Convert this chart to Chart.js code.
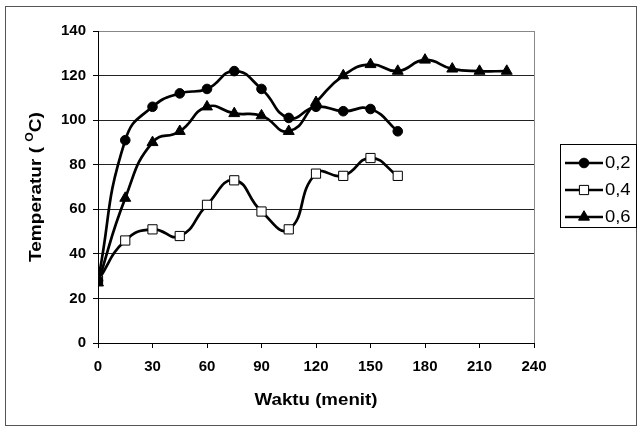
<!DOCTYPE html>
<html>
<head>
<meta charset="utf-8">
<script src="https://cdn.jsdelivr.net/npm/chart.js@4.4.1/dist/chart.umd.min.js"></script>
<style>
  html, body { margin: 0; padding: 0; background: #fff; }
  canvas { display: block; }
</style>
</head>
<body>
<canvas id="temp-chart" width="638" height="427"></canvas>
<script>
'use strict';

/* ====== data ====== */
const waktu = [0, 15, 30, 45, 60, 75, 90, 105, 120, 135, 150, 165, 180, 195, 210, 225];
const seriesNames = ['0,2', '0,4', '0,6'];
const temp02 = [28, 91, 106, 112, 114, 122, 114, 101, 106, 104, 105, 95];
const temp04 = [28, 46, 51, 48, 62, 73, 59, 51, 76, 75, 83, 75];
const temp06 = [27, 65, 90, 95, 106, 103, 102, 95, 108, 120, 125, 122, 127, 123, 122, 122];
const xTicks = [0, 30, 60, 90, 120, 150, 180, 210, 240];
const yTicks = [0, 20, 40, 60, 80, 100, 120, 140];

const FONT = '"Liberation Sans", Arial, sans-serif';

function toPoints(values) {
  return values.map((v, i) => ({ x: waktu[i], y: v }));
}

function makeSet(label, values, style, fill, radius, order) {
  return {
    label,
    data: toPoints(values),
    borderColor: '#000',
    borderWidth: 2.7,
    tension: 0.5,
    pointStyle: style,
    pointRadius: radius,
    pointBackgroundColor: fill,
    pointBorderColor: '#000',
    pointBorderWidth: 1,
    order
  };
}

// legend marker, same shapes as the points
function drawMarker(ctx, style, fill, r, x, y) {
  ctx.fillStyle = fill;
  ctx.strokeStyle = '#000';
  ctx.lineWidth = 1;
  ctx.beginPath();
  if (style === 'circle') {
    ctx.arc(x, y, r, 0, Math.PI * 2);
  } else if (style === 'rect') {
    const s = r * Math.SQRT1_2;
    ctx.rect(x - s, y - s, 2 * s, 2 * s);
  } else {
    ctx.moveTo(x, y - r);
    ctx.lineTo(x + r * 0.866, y + r * 0.5);
    ctx.lineTo(x - r * 0.866, y + r * 0.5);
    ctx.closePath();
  }
  ctx.fill();
  ctx.stroke();
}

// frame, plot border, axis titles and the boxed legend on the right
const decorations = {
  id: 'decorations',
  afterDraw(chart) {
    const { ctx, chartArea: a } = chart;
    ctx.save();

    // outer frame
    ctx.strokeStyle = '#555';
    ctx.lineWidth = 1;
    ctx.strokeRect(5.5, 6.5, 631, 419);

    // right edge of plot area (gray)
    ctx.strokeStyle = '#888';
    ctx.beginPath();
    ctx.moveTo(Math.round(a.right) + 0.5, a.top);
    ctx.lineTo(Math.round(a.right) + 0.5, a.bottom);
    ctx.stroke();

    ctx.fillStyle = '#000';

    // x title
    ctx.save();
    ctx.font = 'bold 17px ' + FONT;
    ctx.textAlign = 'center';
    ctx.textBaseline = 'middle';
    ctx.translate((a.left + a.right) / 2, 400);
    ctx.scale(1.1, 1);
    ctx.fillText('Waktu (menit)', 0, 0);
    ctx.restore();

    // y title with superscript O
    ctx.save();
    ctx.translate(36, (a.top + a.bottom) / 2);
    ctx.rotate(-Math.PI / 2);
    ctx.scale(1.12, 1);
    const parts = [
      { t: 'Temperatur ( ', f: 'bold 17px ' + FONT, dy: 0 },
      { t: 'O', f: 'bold 11px ' + FONT, dy: -6 },
      { t: 'C)', f: 'bold 17px ' + FONT, dy: 0 }
    ];
    let total = 0;
    parts.forEach(p => { ctx.font = p.f; total += ctx.measureText(p.t).width; });
    let cx = -total / 2;
    ctx.textBaseline = 'middle';
    ctx.textAlign = 'left';
    parts.forEach(p => {
      ctx.font = p.f;
      ctx.fillText(p.t, cx, p.dy);
      cx += ctx.measureText(p.t).width;
    });
    ctx.restore();

    // legend box
    ctx.strokeStyle = '#000';
    ctx.lineWidth = 1;
    ctx.strokeRect(560.5, 144.5, 76, 83);
    const rowsY = [163, 190, 217];
    chart.data.datasets.forEach((ds, i) => {
      const y = rowsY[i];
      ctx.strokeStyle = '#000';
      ctx.lineWidth = 2.7;
      ctx.beginPath();
      ctx.moveTo(565, y);
      ctx.lineTo(603, y);
      ctx.stroke();
      drawMarker(ctx, ds.pointStyle, ds.pointBackgroundColor, ds.pointRadius, 584, y);
      ctx.save();
      ctx.fillStyle = '#000';
      ctx.font = '16px ' + FONT;
      ctx.textBaseline = 'middle';
      ctx.translate(605, y + 1);
      ctx.scale(1.15, 1);
      ctx.fillText(ds.label, 0, 0);
      ctx.restore();
    });

    ctx.restore();
  }
};

new Chart(document.getElementById('temp-chart'), {
  type: 'line',
  data: {
    datasets: [
      makeSet(seriesNames[0], temp02, 'circle', '#000', 4.8, 2),
      makeSet(seriesNames[1], temp04, 'rect', '#fff', 6.5, 3),
      makeSet(seriesNames[2], temp06, 'triangle', '#000', 6.3, 1)
    ]
  },
  options: {
    responsive: false,
    animation: false,
    layout: { padding: { left: 0, top: 31, right: 104, bottom: 0 } },
    plugins: {
      legend: { display: false },
      tooltip: { enabled: false }
    },
    scales: {
      x: {
        type: 'linear',
        min: 0,
        max: 240,
        afterBuildTicks: s => { s.ticks = xTicks.map(v => ({ value: v })); },
        afterFit: s => { s.height = 84; },
        grid: { drawOnChartArea: false, drawTicks: true, tickLength: 5, color: '#000' },
        border: { color: '#000', width: 1 },
        ticks: {
          color: '#000',
          padding: 10,
          maxRotation: 0,
          font: { family: FONT, size: 15, weight: 'bold' }
        }
      },
      y: {
        min: 0,
        max: 140,
        afterBuildTicks: s => { s.ticks = yTicks.map(v => ({ value: v })); },
        afterFit: s => { s.width = 98; },
        grid: {
          color: ctx => ctx.tick && ctx.tick.value === 140 ? '#888' : '#222',
          tickLength: 5,
          tickColor: '#000'
        },
        border: { color: '#000', width: 1 },
        ticks: {
          color: '#000',
          padding: 7,
          font: { family: FONT, size: 15, weight: 'bold' }
        }
      }
    }
  },
  plugins: [decorations]
});
</script>
</body>
</html>
